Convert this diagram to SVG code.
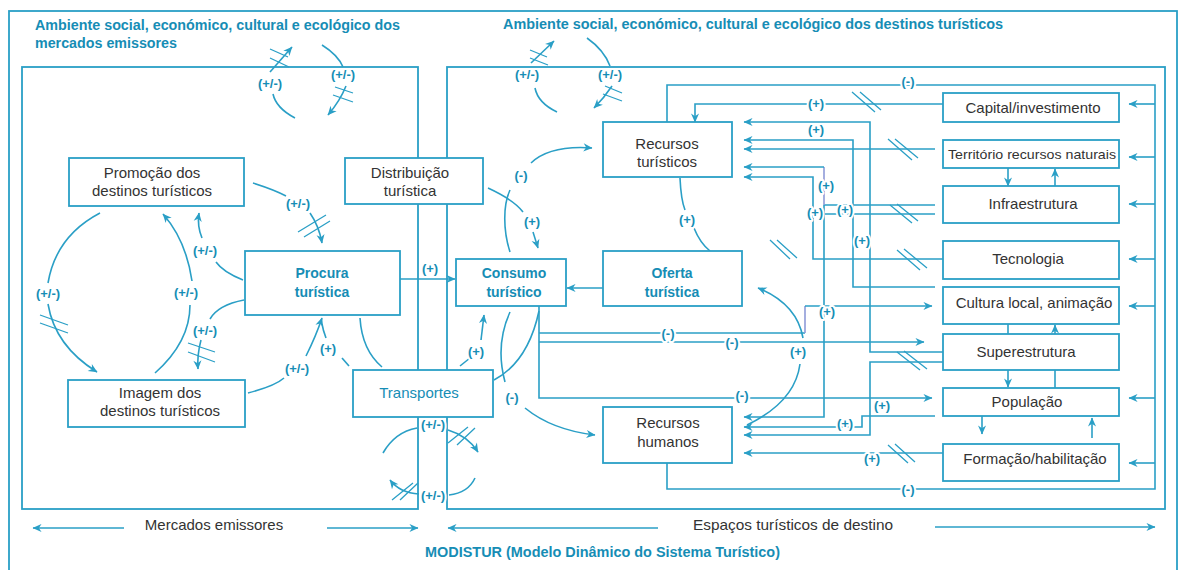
<svg xmlns="http://www.w3.org/2000/svg" width="1179" height="570" viewBox="0 0 1179 570">
  <defs>
    <marker id="ah" viewBox="0 0 10 10" refX="9.5" refY="5" markerWidth="11" markerHeight="9" orient="auto" markerUnits="userSpaceOnUse">
      <path d="M0,0.5 L10,5 L0,9.5 L3,5 z" fill="#2a9fc6"/>
    </marker>
    <style>
      .frame { fill: none; stroke: #2a9fc6; stroke-width: 1.8; }
      .ln { fill: none; stroke: #2a9fc6; stroke-width: 1.6; }
      .alt { stroke: #8e9ad8; }
      .arr { marker-end: url(#ah); }
      .hash { fill: none; stroke: #2a9fc6; stroke-width: 1.3; }
      .box { fill: #fff; stroke: #2a9fc6; stroke-width: 1.8; }
      .t { font-family: "Liberation Sans", Arial, sans-serif; font-size: 15px; fill: #333; text-anchor: middle; }
      .tb { font-family: "Liberation Sans", Arial, sans-serif; font-size: 14px; font-weight: bold; fill: #168db5; text-anchor: middle; }
      .tr { font-family: "Liberation Sans", Arial, sans-serif; font-size: 15px; fill: #168db5; text-anchor: middle; }
      .title { font-family: "Liberation Sans", Arial, sans-serif; font-size: 14px; font-weight: bold; fill: #168db5; }
      .lab { font-family: "Liberation Sans", Arial, sans-serif; font-size: 13px; font-weight: bold; fill: #168db5; text-anchor: middle; paint-order: stroke; stroke: #fff; stroke-width: 4px; stroke-linejoin: round; }
    </style>
  </defs>

  <!-- frames: environment, emitting markets, destination spaces -->
  <g id="frames">
    <rect class="frame" x="9" y="11" width="1168" height="566"/>
    <rect class="frame" x="22" y="67" width="396" height="442"/>
    <rect class="frame" x="447" y="67" width="718" height="442"/>
  </g>

  <g id="titles">
    <text class="title" x="35" y="30" textLength="365" lengthAdjust="spacingAndGlyphs">Ambiente social, económico, cultural e ecológico dos</text>
    <text class="title" x="35" y="48" textLength="142" lengthAdjust="spacingAndGlyphs">mercados emissores</text>
    <text class="title" x="503" y="29" textLength="500" lengthAdjust="spacingAndGlyphs">Ambiente social, económico, cultural e ecológico dos destinos turísticos</text>
    <text class="title" x="425" y="557" textLength="355" lengthAdjust="spacingAndGlyphs">MODISTUR (Modelo Dinâmico do Sistema Turístico)</text>
    <text class="t" x="214" y="530">Mercados emissores</text>
    <text class="t" x="793" y="530" textLength="200" lengthAdjust="spacingAndGlyphs">Espaços turísticos de destino</text>
  </g>

  <g id="connectors">
    <!-- scope arrows at the bottom -->
    <path class="ln arr" d="M124,528 H33"/>
    <path class="ln arr" d="M327,528 H418"/>
    <path class="ln arr" d="M658,528 H448"/>
    <path class="ln arr" d="M935,527 H1155"/>

    <!-- environment interactions at the top -->
    <path class="ln arr" d="M270,72 L292,47"/>
    <path class="ln" d="M273,94 Q276,108 295,118"/>
    <path class="ln" d="M322,45 Q338,55 343,67"/>
    <path class="ln arr" d="M346,86 Q340,101 328,115"/>
    <path class="ln arr" d="M531,63 L554,41"/>
    <path class="ln" d="M535,88 Q538,103 557,112"/>
    <path class="ln" d="M587,38 Q604,50 610,66"/>
    <path class="ln arr" d="M612,86 Q604,98 594,108"/>

    <!-- emitting markets loop -->
    <path class="ln" d="M100,213 Q56,236 48,283"/>
    <path class="ln arr" d="M48,304 Q55,346 97,372"/>
    <path class="ln" d="M155,373 Q190,342 190,305"/>
    <path class="ln arr" d="M192,281 Q186,240 163,214"/>
    <path class="ln" d="M243,280 Q223,272 216,262"/>
    <path class="ln arr" d="M202,238 Q197,226 199,213"/>
    <path class="ln" d="M244,300 Q218,305 210,319"/>
    <path class="ln arr" d="M201,340 Q197,355 198,369"/>
    <path class="ln" d="M253,183 Q275,190 286,196"/>
    <path class="ln arr" d="M310,213 Q319,226 322,243"/>
    <path class="ln" d="M248,393 Q275,386 284,378"/>
    <path class="ln arr" d="M306,356 Q316,336 322,318"/>
    <path class="ln" d="M349,366 L342,358"/>
    <path class="ln" d="M326,338 Q323,330 322,324"/>
    <path class="ln" d="M360,318 Q362,350 382,367"/>

    <!-- transport links -->
    <path class="ln" d="M460,366 L470,358"/>
    <path class="ln arr" d="M481,340 L484,315"/>
    <path class="ln" d="M383,453 Q395,432 417,428"/>
    <path class="ln arr" d="M448,430 Q468,436 478,452"/>
    <path class="ln" d="M475,478 Q468,493 449,495"/>
    <path class="ln arr" d="M419,494 Q400,493 390,480"/>

    <!-- demand, distribution and consumption -->
    <path class="ln arr" d="M400,279 H455"/>
    <path class="ln" d="M488,188 Q514,200 523,212"/>
    <path class="ln arr" d="M533,232 L538,248"/>
    <path class="ln" d="M510,252 C503,230 503,205 510,190"/>
    <path class="ln arr" d="M531,163 Q550,145 592,148"/>
    <path class="ln" d="M510,312 Q495,345 505,382"/>
    <path class="ln arr" d="M525,408 Q552,430 595,435"/>
    <path class="ln" d="M539,311 Q528,362 494,380"/>
    <path class="ln arr" d="M603,288 H567"/>
    <path class="ln" d="M680,178 Q681,200 685,210"/>
    <path class="ln" d="M694,228 Q700,243 710,251"/>
    <path class="ln" d="M747,425 Q795,402 800,364"/>
    <path class="ln arr" d="M803,338 Q797,304 758,288"/>

    <!-- consumption effects on destination factors -->
    <path class="ln arr" d="M539,306 V398 H932"/>
    <path class="ln" d="M539,333 H805"/>
    <path class="ln alt" d="M805,333 V306"/>
    <path class="ln arr" d="M805,306 H932"/>
    <path class="ln arr" d="M539,342 H924"/>

    <!-- outer feedback loop -->
    <path class="ln" d="M667,122 V85 H1155 V489 H667 V463"/>
    <path class="ln arr" d="M1155,104 H1129"/>
    <path class="ln arr" d="M1155,157 H1129"/>
    <path class="ln arr" d="M1155,204 H1129"/>
    <path class="ln arr" d="M1155,259 H1129"/>
    <path class="ln arr" d="M1155,306 H1129"/>
    <path class="ln arr" d="M1155,398 H1129"/>
    <path class="ln arr" d="M1155,463 H1129"/>

    <!-- destination factors to tourist resources -->
    <path class="ln arr" d="M943,104 H695 V122"/>
    <path class="ln arr" d="M943,352 H870 V122 H744"/>
    <path class="ln arr" d="M935,287 H853 V140 H744"/>
    <path class="ln arr" d="M935,149 H744"/>
    <path class="ln" d="M935,205 H824"/>
    <path class="ln alt" d="M824,205 V167"/>
    <path class="ln arr" d="M824,167 H744"/>
    <path class="ln arr" d="M943,259 H813 V177 H744"/>
    <path class="ln" d="M935,214 H813"/>

    <!-- destination factors to human resources -->
    <path class="ln arr" d="M824,205 V417 H744"/>
    <path class="ln arr" d="M935,416 H862 V427 H744"/>
    <path class="ln arr" d="M943,362 H870 V435 H744"/>
    <path class="ln arr" d="M943,453 H744"/>

    <!-- links between neighbouring factors -->
    <path class="ln arr" d="M1008,168 V186"/>
    <path class="ln arr" d="M1055,186 V169"/>
    <path class="ln" d="M1008,324 V334"/>
    <path class="ln arr" d="M1055,334 V325"/>
    <path class="ln arr" d="M1008,370 V387"/>
    <path class="ln" d="M1055,370 V388"/>
    <path class="ln arr" d="M982,416 V434"/>
    <path class="ln arr" d="M1092,438 V418"/>

    <!-- delay marks -->
    <path class="hash" d="M270,49 L288,57 M270,58 L289,67"/>
    <path class="hash" d="M335,87 L353,93 M333,95 L353,102"/>
    <path class="hash" d="M530,50 L547,57 M530,58 L548,65"/>
    <path class="hash" d="M605,86 L622,93 M603,94 L622,101"/>
    <path class="hash" d="M40,315 L68,325 M40,323 L68,333"/>
    <path class="hash" d="M188,343 L215,352 M188,352 L215,362"/>
    <path class="hash" d="M298,232 L326,215 M304,237 L330,221"/>
    <path class="hash" d="M448,443 L468,427 M457,445 L475,428"/>
    <path class="hash" d="M392,500 L413,483 M400,500 L418,483"/>
    <path class="hash" d="M852,92 L875,112 M860,92 L881,110"/>
    <path class="hash" d="M888,139 L912,160 M895,139 L918,158"/>
    <path class="hash" d="M890,205 L912,223 M897,204 L918,221"/>
    <path class="hash" d="M897,250 L920,270 M904,249 L927,268"/>
    <path class="hash" d="M770,240 L790,259 M777,240 L797,258"/>
    <path class="hash" d="M897,352 L920,370 M904,351 L927,369"/>
    <path class="hash" d="M888,445 L908,463 M895,444 L915,462"/>

    <!-- polarity labels -->
    <text class="lab" x="270" y="88">(+/-)</text>
    <text class="lab" x="343" y="79">(+/-)</text>
    <text class="lab" x="527" y="79">(+/-)</text>
    <text class="lab" x="610" y="79">(+/-)</text>
    <text class="lab" x="48" y="298">(+/-)</text>
    <text class="lab" x="186" y="297">(+/-)</text>
    <text class="lab" x="205" y="255">(+/-)</text>
    <text class="lab" x="205" y="335">(+/-)</text>
    <text class="lab" x="298" y="208">(+/-)</text>
    <text class="lab" x="297" y="373">(+/-)</text>
    <text class="lab" x="328" y="353">(+)</text>
    <text class="lab" x="430" y="273">(+)</text>
    <text class="lab" x="476" y="356">(+)</text>
    <text class="lab" x="532" y="226">(+)</text>
    <text class="lab" x="521" y="180">(-)</text>
    <text class="lab" x="512" y="402">(-)</text>
    <text class="lab" x="433" y="429">(+/-)</text>
    <text class="lab" x="433" y="500">(+/-)</text>
    <text class="lab" x="687" y="224">(+)</text>
    <text class="lab" x="908" y="86">(-)</text>
    <text class="lab" x="816" y="108">(+)</text>
    <text class="lab" x="816" y="134">(+)</text>
    <text class="lab" x="826" y="190">(+)</text>
    <text class="lab" x="815" y="217">(+)</text>
    <text class="lab" x="845" y="214">(+)</text>
    <text class="lab" x="862" y="245">(+)</text>
    <text class="lab" x="827" y="316">(+)</text>
    <text class="lab" x="668" y="338">(-)</text>
    <text class="lab" x="732" y="347">(-)</text>
    <text class="lab" x="742" y="400">(-)</text>
    <text class="lab" x="798" y="356">(+)</text>
    <text class="lab" x="882" y="410">(+)</text>
    <text class="lab" x="845" y="428">(+)</text>
    <text class="lab" x="872" y="463">(+)</text>
    <text class="lab" x="908" y="494">(-)</text>
  </g>

  <!-- emitting market nodes -->
  <g id="promocao">
    <rect class="box" x="69" y="158" width="175" height="48"/>
    <text class="t" x="152" y="178">Promoção dos</text>
    <text class="t" x="152" y="196">destinos turísticos</text>
  </g>
  <g id="imagem">
    <rect class="box" x="68" y="380" width="177" height="47"/>
    <text class="t" x="160" y="398">Imagem dos</text>
    <text class="t" x="160" y="416">destinos turísticos</text>
  </g>
  <g id="procura">
    <rect class="box" x="245" y="251" width="155" height="64"/>
    <text class="tb" x="322" y="278">Procura</text>
    <text class="tb" x="322" y="297">turística</text>
  </g>
  <g id="distribuicao">
    <rect class="box" x="345" y="158" width="138" height="46"/>
    <text class="t" x="410" y="178">Distribuição</text>
    <text class="t" x="410" y="196">turística</text>
  </g>
  <g id="transportes">
    <rect class="box" x="353" y="370" width="140" height="47"/>
    <text class="tr" x="419" y="398">Transportes</text>
  </g>

  <!-- destination nodes -->
  <g id="consumo">
    <rect class="box" x="456" y="259" width="110" height="47"/>
    <text class="tb" x="514" y="278">Consumo</text>
    <text class="tb" x="514" y="297">turístico</text>
  </g>
  <g id="oferta">
    <rect class="box" x="603" y="251" width="139" height="55"/>
    <text class="tb" x="672" y="278">Oferta</text>
    <text class="tb" x="672" y="297">turística</text>
  </g>
  <g id="recursos-turisticos">
    <rect class="box" x="603" y="122" width="129" height="55"/>
    <text class="t" x="667" y="149">Recursos</text>
    <text class="t" x="667" y="167">turísticos</text>
  </g>
  <g id="recursos-humanos">
    <rect class="box" x="603" y="407" width="129" height="56"/>
    <text class="t" x="668" y="428">Recursos</text>
    <text class="t" x="668" y="447">humanos</text>
  </g>

  <!-- destination factors -->
  <g id="capital">
    <rect class="box" x="943" y="93" width="176" height="29"/>
    <text class="t" x="1033" y="113">Capital/investimento</text>
  </g>
  <g id="territorio">
    <rect class="box" x="943" y="140" width="176" height="28"/>
    <text class="t" x="1032" y="159" style="font-size:13px" textLength="168" lengthAdjust="spacingAndGlyphs">Território recursos naturais</text>
  </g>
  <g id="infraestrutura">
    <rect class="box" x="943" y="186" width="176" height="37"/>
    <text class="t" x="1033" y="209">Infraestrutura</text>
  </g>
  <g id="tecnologia">
    <rect class="box" x="943" y="241" width="176" height="38"/>
    <text class="t" x="1028" y="264">Tecnologia</text>
  </g>
  <g id="cultura">
    <rect class="box" x="943" y="287" width="176" height="37"/>
    <text class="t" x="1034" y="308">Cultura local, animação</text>
  </g>
  <g id="superestrutura">
    <rect class="box" x="943" y="334" width="176" height="36"/>
    <text class="t" x="1026" y="357">Superestrutura</text>
  </g>
  <g id="populacao">
    <rect class="box" x="943" y="388" width="176" height="28"/>
    <text class="t" x="1027" y="407">População</text>
  </g>
  <g id="formacao">
    <rect class="box" x="943" y="444" width="176" height="37"/>
    <text class="t" x="1035" y="464">Formação/habilitação</text>
  </g>
</svg>
